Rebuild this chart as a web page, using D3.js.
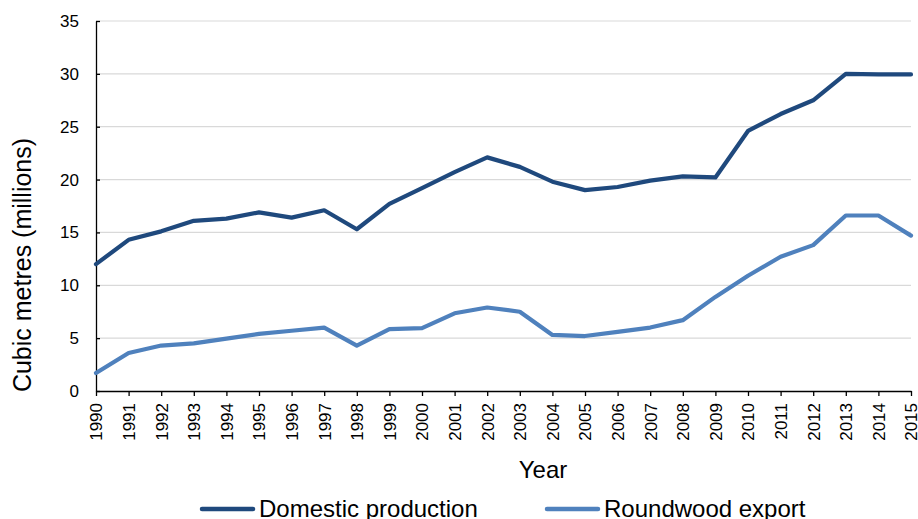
<!DOCTYPE html>
<html>
<head>
<meta charset="utf-8">
<script src="https://cdn.jsdelivr.net/npm/d3@7"></script>
<style>
  body { margin: 0; background: #fff; }
  svg { font-family: "Liberation Sans", Arial, sans-serif; }
</style>
</head>
<body>
<svg id="drawing_region"></svg>
<script>
const years = d3.range(1990, 2016)
const domestic = [12.0, 14.3, 15.1, 16.1, 16.3, 16.9, 16.4, 17.1, 15.3, 17.7, 19.2, 20.7, 22.1, 21.2, 19.8, 19.0, 19.3, 19.9, 20.3, 20.2, 24.6, 26.2, 27.5, 30.0, 29.95, 29.95]
const roundwood = [1.7, 3.6, 4.3, 4.5, 4.95, 5.4, 5.7, 6.0, 4.3, 5.85, 5.95, 7.35, 7.9, 7.5, 5.3, 5.2, 5.6, 6.0, 6.7, 8.9, 10.9, 12.7, 13.8, 16.6, 16.6, 14.7]
const yticks = [0, 5, 10, 15, 20, 25, 30, 35]
const seriesNames = ['Domestic production', 'Roundwood export']
const colors = ['#1f497d', '#4f81bd']

const config = {
    width: 918,
    height: 519,
    margin: {top: 21, left: 96, right: 7, bottom: 128}
}

const svg = d3.select('#drawing_region')
    .attr('width', config.width)
    .attr('height', config.height)

const inner_width = config.width - config.margin.left - config.margin.right
const inner_height = config.height - config.margin.top - config.margin.bottom

const chart = svg.append('g')
    .attr('transform', `translate(${config.margin.left},${config.margin.top})`)

const xscale = d3.scaleLinear().domain([1990, 2015]).range([0, inner_width])
const yscale = d3.scaleLinear().domain([0, 35]).range([inner_height, 0])

// gridlines
chart.append('g').selectAll('line').data(yticks.filter(d => d > 0)).enter()
    .append('line')
    .attr('x1', 0).attr('x2', inner_width)
    .attr('y1', d => yscale(d)).attr('y2', d => yscale(d))
    .attr('stroke', '#d9d9d9')
    .attr('stroke-width', 1.2)

// y axis (small ticks pointing into the plot)
const yaxis_group = chart.append('g')
    .call(d3.axisLeft(yscale).tickValues(yticks).tickSize(-4).tickSizeOuter(0))
yaxis_group.select('.domain').attr('stroke', '#000').attr('stroke-width', 1.3)
yaxis_group.selectAll('.tick line').attr('stroke', '#000').attr('stroke-width', 1.3)
yaxis_group.selectAll('.tick text')
    .attr('font-size', 17)
    .attr('fill', '#000')
    .attr('x', -17)

// x axis
const xaxis_group = chart.append('g')
    .attr('transform', `translate(0,${inner_height})`)
    .call(d3.axisBottom(xscale).tickValues(years).tickFormat(d3.format('d')).tickSize(5).tickSizeOuter(0))
xaxis_group.select('.domain').attr('stroke', '#000').attr('stroke-width', 1.3)
xaxis_group.selectAll('.tick line').attr('stroke', '#000').attr('stroke-width', 1.3)
xaxis_group.selectAll('.tick text')
    .attr('font-size', 17)
    .attr('fill', '#000')
    .attr('transform', 'rotate(-90)')
    .attr('text-anchor', 'end')
    .attr('x', -12)
    .attr('y', 0)
    .attr('dy', '0.35em')

// lines
const line = d3.line()
    .x((d, i) => xscale(years[i]))
    .y(d => yscale(d))

chart.selectAll('path.series').data([domestic, roundwood]).enter()
    .append('path')
    .attr('class', 'series')
    .attr('d', d => line(d))
    .attr('fill', 'none')
    .attr('stroke', (d, i) => colors[i])
    .attr('stroke-width', 4.2)
    .attr('stroke-linejoin', 'round')
    .attr('stroke-linecap', 'round')

// axis titles
svg.append('text')
    .attr('transform', `translate(31,265) rotate(-90)`)
    .attr('text-anchor', 'middle')
    .attr('font-size', 25)
    .attr('fill', '#000')
    .text('Cubic metres (millions)')

svg.append('text')
    .attr('x', 543)
    .attr('y', 478)
    .attr('text-anchor', 'middle')
    .attr('font-size', 24)
    .attr('fill', '#000')
    .text('Year')

// legend
const legendX = [200, 545]
const legend = svg.append('g').selectAll('g').data(seriesNames).enter()
    .append('g')
    .attr('transform', (d, i) => `translate(${legendX[i]},509)`)
legend.append('line')
    .attr('x1', 2).attr('x2', 53)
    .attr('y1', 0).attr('y2', 0)
    .attr('stroke', (d, i) => colors[i])
    .attr('stroke-width', 4.5)
    .attr('stroke-linecap', 'round')
legend.append('text')
    .attr('x', 59)
    .attr('y', 8)
    .attr('font-size', 24)
    .attr('fill', '#000')
    .text(d => d)
</script>
</body>
</html>
